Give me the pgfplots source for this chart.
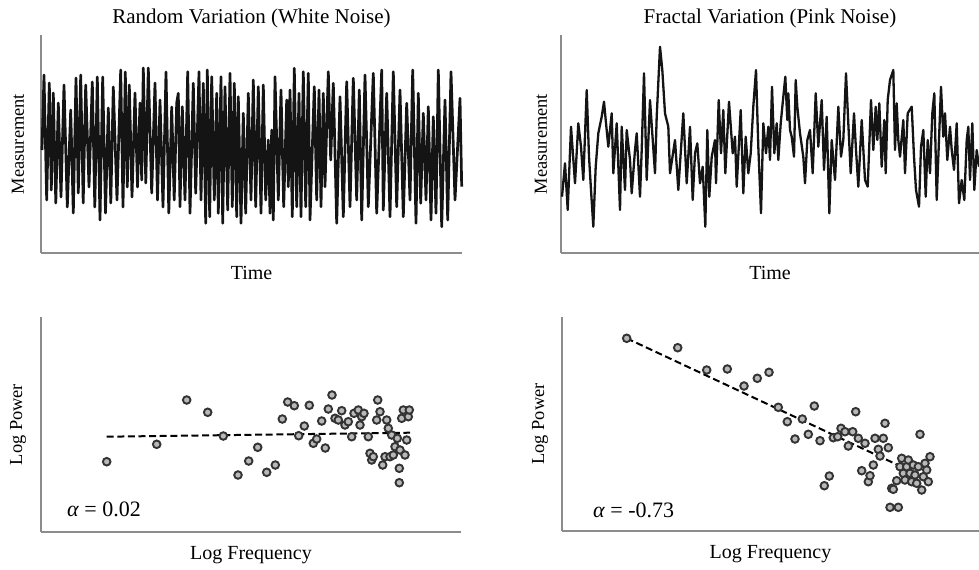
\documentclass[border=0pt]{standalone}
\usepackage{fontspec}
\setmainfont{Liberation Serif}
\usepackage{pgfplots}
\pgfplotsset{compat=1.18}

% data are in image pixel units (x to the right, y downward)
\pgfplotsset{
  every axis title/.style={font=\fontsize{10.5}{12}\selectfont, anchor=center,
      at={([yshift=8.5pt]axis description cs:0.5,1)}},
  panel/.style={
    scale only axis, clip=false,
    axis x line=bottom, axis y line=left,
    axis line style={-, draw=black!45, line width=1pt},
    xtick=\empty, ytick=\empty, y dir=reverse,
    xlabel style={font=\fontsize{10}{12}\selectfont, anchor=center},
    ylabel style={font=\fontsize{9.2}{11}\selectfont, anchor=center, rotate=0},
  },
  series/.style={black!92, line width=1.15pt, line join=round, mark=none},
  pts/.style={only marks, mark=*, mark size=1.9pt,
    mark options={draw=black!80, fill=black!28, line width=0.95pt}},
  fit/.style={black, line width=1pt, dash pattern=on 3.5pt off 1.8pt},
}

\begin{document}
\begin{tikzpicture}
\useasboundingbox (0,0) rectangle (489.5pt,284.5pt);

% ---------- top left: white noise
\begin{axis}[panel, at={(20.5pt,158pt)}, anchor=south west,
  width=210.5pt, height=109pt, xmin=41, xmax=462, ymin=35, ymax=253,
  title={Random Variation (White Noise)},
  xlabel={Time}, xlabel style={at={([yshift=-10pt]axis description cs:0.5,0)}},
  ylabel={Measurement}, ylabel style={at={([xshift=-11.5pt]axis description cs:0,0.5)}},
  series/.append style={line width=1.35pt},
]
\addplot[series] coordinates {
(42,150)(44,75)(46.7,200)(49.3,83)(51.3,190)(53.3,93)(55.8,203)(58.3,103)(61,197)(64,85)
(67.3,207)(70.7,110)(73.3,213)(76,78)(78.3,193)(80.7,75)(83.2,203)(85.7,85)(89,187)(92.3,82)
(94.8,207)(97.3,77)(100,220)(102.7,77)(105.5,213)(108.3,108)(110.8,203)(113.3,87)(117,200)(120.7,70)
(123,207)(125.3,72)(127.3,187)(129.3,85)(132,197)(135,93)(137.5,187)(140,103)(141.7,180)(143.3,68)
(145.8,183)(148.3,68)(151.7,193)(155,83)(157.5,200)(160,100)(163,207)(166,72)(168.8,213)(171.7,107)
(174.2,200)(176.7,103)(178.3,93.3)(180,206.7)(182.3,106.7)(185,200)(187.7,71.7)(190,213.3)(193.3,83.3)(195.7,193.3)
(199,71.7)(201,200)(203.3,83.3)(205.7,223.3)(207.3,70)(209.7,216.7)(211.7,76.7)(214.3,200)(216.7,93.3)(218.3,213.3)
(221,76.7)(222.7,223.3)(225,86.7)(227.7,210)(230,73.3)(232.3,206.7)(234.3,83.3)(236.7,216.7)(238.3,96.7)(241,223.3)
(243.3,113.3)(245.7,213.3)(248.3,93.3)(251,200)(253.3,80)(255.7,206.7)(258.3,86.7)(261,213.3)(263.3,85)(265.7,200)
(268.3,140)(270,213.3)(271.7,130)(273.3,220)(275,76.7)(278.3,200)(281,90)(283.7,206.7)(286.7,100)(288.3,186.7)
(290,90)(292.3,216.7)(294.3,68.3)(296.7,206.7)(299,93.3)(301,216.7)(303.3,71.7)(305.7,206.7)(308.3,73.3)(310,220)
(314.3,86.7)(316.7,200)(319,90)(321,206.7)(323.3,93.3)(325,186.7)(328.3,71.7)(330.7,160)(333.3,83.3)(336.7,223.3)
(340,96.7)(343.3,216.7)(346.7,81.7)(350,206.7)(353.3,78.3)(356.7,200)(359.3,90)(361.7,220)(365,75)(368.3,206.7)
(373.3,73.3)(376.7,213.3)(381.7,70)(383.3,210)(386.7,93.3)(390,216.7)(393.3,71.7)(396.7,206.7)(400,90)(403.3,216.7)
(406.7,103.3)(410,200)(412.7,70)(416,223.3)(418.3,93.3)(420.7,203.3)(423.3,113.3)(426,200)(428.3,106.7)(431,220)
(433.3,116.7)(436,213.3)(438.3,70)(441.7,226.7)(445,100)(447.7,220)(451,71.7)(455,200)(460,98.3)(461.7,186.7)
};
\end{axis}

% ---------- top right: pink noise
\begin{axis}[panel, at={(280.5pt,158pt)}, anchor=south west,
  width=209pt, height=109pt, xmin=561, xmax=979, ymin=35, ymax=253,
  title={Fractal Variation (Pink Noise)},
  xlabel={Time}, xlabel style={at={([yshift=-10pt]axis description cs:0.5,0)}},
  ylabel={Measurement}, ylabel style={at={([xshift=-10pt]axis description cs:0,0.5)}},
]
\addplot[series] coordinates {
(562,196.7)(565,163.3)(567.7,210)(571,126.7)(575,183.3)(578.3,123.3)(581,146.7)(583.3,180)(586.7,90)(589,156.7)
(591,190)(593.3,226.7)(595.7,166.7)(598.3,133.3)(601.7,116.7)(604,101.7)(605.7,120)(608.3,146.7)(611.7,113.3)(613.3,173.3)
(616.7,123.3)(620,210)(621.7,126.7)(625,190)(626.7,130)(630,160)(631.7,193.3)(635,150)(636.7,133.3)(640,196.7)
(641.7,150)(644,73.3)(646.7,180)(650,100)(655,173.3)(656.7,116.7)(660,46.7)(662.3,70)(665,113.3)(668.3,126.7)
(670,173.3)(675,140)(678.3,190)(683.3,113.3)(686.7,183.3)
(690,126.7)(692.7,200)(695,153.3)(697.3,143.3)(700,183.3)(702.7,166.7)(705.3,226.7)(707.3,130)(709.3,196.7)(711.7,156.7)
(715,140)(716,183.3)(718.7,100)(721,153.3)(723.3,110)(725.3,173.3)(729,101.7)(732.7,153.3)(735,136.7)(736.7,186.7)
(740.7,110)(743.3,193.3)(745.7,136.7)(748.3,173.3)(750.7,153.3)(753.3,106.7)(756,70)(758.3,146.7)(761,213.3)(763.3,123.3)
(766,153.3)(768.3,126.7)(770,160)(772,86.7)(774.3,153.3)(776.7,123.3)(778.3,160)(780.7,123.3)(783.3,96.7)(785.3,76.7)
(787.3,120)(788.3,93.3)(790,130)(791.7,136.7)(794,156.7)(795.7,80)(797.3,106.7)(800,133.3)(803.3,156.7)(805,183.3)
(807.3,140)(810,130)(812.7,173.3)(815.7,93.3)(818.3,146.7)(821.7,100)(824,170)(826.7,116.7)(829.3,213.3)(831.7,140)
(835,180)(838.3,106.7)(841,156.7)(843.3,140)(846,73.3)(848.3,123.3)(850.7,173.3)(854,113.3)(856,150)(858.3,186.7)
(861.7,120)(865,180)(867.7,186.7)(871,100)(873.3,150)(875.7,106.7)(877.3,140)(879.3,103.3)(881.7,166.7)(884.3,120)
(885.7,173.3)(887.7,100)(890,80)(893.3,70)(895,150)(896.7,103.3)(898.3,140)(900,156.7)(903.3,120)(905,173.3)
(907.7,113.3)(911.7,106.7)(914,156.7)(916,190)(919,206.7)(921,146.7)(923.3,130)(925.7,196.7)(927.7,140)(930,173.3)
(932.3,113.3)(934.3,93.3)(936.7,200)(941,86.7)(943.3,136.7)(945,113.3)(947.3,160)(950,126.7)(951.7,150)(954,170)
(956.7,123.3)(959,203.3)(961.7,180)(964.3,200)(966.7,140)(968.3,126.7)(970,180)(972.3,123.3)(974.3,190)(976.7,150)
(979,166.7)
};
\end{axis}

% ---------- bottom left: spectrum of white noise
\begin{axis}[panel, at={(20.5pt,18.5pt)}, anchor=south west,
  width=210pt, height=107.5pt, xmin=41, xmax=461, ymin=317, ymax=532,
  xlabel={Log Frequency}, xlabel style={at={([yshift=-11.5pt]axis description cs:0.5,0)}},
  ylabel={Log Power}, ylabel style={at={([xshift=-11.5pt]axis description cs:0,0.5)}},
]
\addplot[pts] coordinates {
(106.7,461.7)(156.7,444.3)(186.7,400)(207.7,412.3)(223.3,436)(238,475)(248.7,461)(257.7,447.3)(266.7,472.3)(275.3,465)
(282.3,419)(287.7,402)(294.3,405.7)(298.7,435.7)(304.3,426)(309.3,405.3)(313.3,443.3)(316.7,439)(321.7,421)(325.3,448)
(332,395)(328.3,409)(335,418.3)(341.7,410.7)(338.3,420)(345,425)(348.3,421.7)(351.7,436.7)(354,413.3)(358.3,410)
(361.7,416.7)(364,413.3)(360,425)(368.3,436.7)(370,453.3)(371.7,460)(373.3,456.7)(376.7,420)(377.7,400)(380,411.7)
(382.7,465)(385,456.7)(386.7,420)(388.3,428.3)(390,456.7)(391.7,435)(393.3,455)(395,446.7)(397.3,438.3)(399.3,468.3)
(399.3,482.7)(400,450)(401.7,418.3)(403.3,410)(405,455)(406.7,440)(408.3,416.7)(409.3,410)
};
\addplot[fit] coordinates {(106.7,436.7)(410,432.7)};
\node[anchor=west, font=\fontsize{11}{13}\selectfont] at (axis cs:60,509) {\textit{α} = 0.02};
\end{axis}

% ---------- bottom right: spectrum of pink noise
\begin{axis}[panel, at={(281pt,19pt)}, anchor=south west,
  width=208.5pt, height=107pt, xmin=562, xmax=979, ymin=317, ymax=531,
  xlabel={Log Frequency}, xlabel style={at={([yshift=-11.5pt]axis description cs:0.5,0)}},
  ylabel={Log Power}, ylabel style={at={([xshift=-11pt]axis description cs:0,0.5)}},
]
\addplot[pts] coordinates {
(626.7,338.3)(677.7,347.7)(706.7,370)(727.3,369)(744,386)(757.3,378.3)(769,372.3)(778.3,407.3)(787.3,421.7)(795,439)
(802.3,419)(808.3,434.3)(814.3,406)(820,440.7)(824.3,485.7)(829.3,476)(833.3,437.7)(837.7,436.7)(841,428.3)(845,431.7)
(848.3,446)(852.7,431.7)(855.7,411.7)(858.3,438.3)(861.7,470.7)(865,443.3)(868.3,481.7)(870,475.7)(873.3,465)(875,438.3)
(878.3,449.3)(880,456)(883.3,438.3)(885,423.3)(888.3,447.7)(890,507.3)(891.7,488.3)(893.3,489.3)(896.7,480.7)(898.3,507.3)
(900,466.7)(901.7,458.3)(903.3,473.3)(905,480)(906.7,466.7)(908.3,460)(910,473.3)(911.7,481.7)(913.3,465)(915,475)
(916.7,483.3)(918.3,466.7)(920,434.3)(921.7,490)(923.3,476.7)(925,463.3)(926.7,470)(928.3,481.7)(930,456.7)
};
\addplot[fit] coordinates {(626.7,338.3)(900,466)};
\node[anchor=west, font=\fontsize{11}{13}\selectfont] at (axis cs:586,510) {\textit{α} = -0.73};
\end{axis}
\end{tikzpicture}
\end{document}
